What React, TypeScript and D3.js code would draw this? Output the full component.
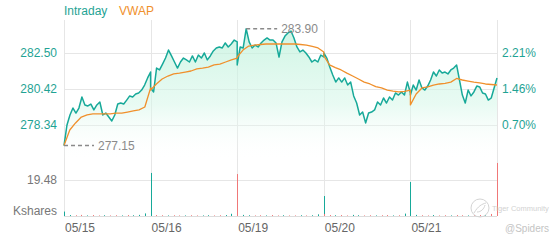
import React from 'react';
import * as d3 from 'd3';

const dayLabels = ['05/15', '05/16', '05/19', '05/20', '05/21'];

// intraday prices, evenly spaced through each session
const priceDay1 = [277.15, 278.34, 278.92, 279.32, 279.03, 279.32, 279.96, 279.50, 279.44, 279.55, 279.21, 279.50, 279.67, 278.92, 279.03, 278.80, 278.57, 278.92, 279.55, 279.61, 279.55, 279.78, 280.02, 279.96, 280.13, 280.19, 280.36, 280.65, 281.06, 281.40];
const priceDay2 = [280.48, 280.25, 281.63, 281.52, 281.86, 282.21, 282.67, 282.33, 281.98, 281.63, 281.98, 282.21, 282.10, 281.98, 282.33, 281.98, 282.38, 282.21, 282.50, 282.10, 282.33, 282.62, 282.79, 282.85, 282.79, 283.08, 282.85, 283.02, 283.25, 283.14];
const priceDay3 = [281.81, 282.85, 282.79, 283.90, 283.14, 282.79, 282.96, 282.85, 283.08, 283.25, 283.37, 283.25, 283.25, 283.08, 282.27, 283.14, 283.48, 283.66, 283.77, 283.37, 282.85, 282.56, 282.67, 282.50, 282.27, 281.98, 282.10, 281.98, 282.38, 282.27];
const priceDay4 = [282.50, 282.21, 281.69, 281.23, 280.82, 281.06, 280.82, 281.06, 280.65, 280.82, 280.02, 279.61, 278.92, 279.09, 278.46, 279.03, 279.09, 279.21, 279.67, 279.50, 279.90, 279.61, 279.96, 279.78, 280.19, 280.07, 280.25, 280.07, 280.82, 280.19];
const priceDay5 = [280.07, 280.65, 280.36, 280.94, 280.48, 280.36, 280.59, 280.94, 281.40, 281.17, 281.52, 281.34, 281.40, 281.29, 281.52, 281.63, 281.81, 280.94, 280.07, 279.61, 280.36, 280.02, 280.25, 280.59, 280.54, 280.19, 280.13, 279.78, 279.90, 280.48, 281.06];

// VWAP, evenly spaced through each session
const vwapDay1 = [277.15, 278.05, 278.46, 278.80, 278.92, 278.98, 278.98, 278.98, 278.98, 279.03, 279.03, 279.09, 279.15, 279.21, 279.38, 280.48];
const vwapDay2 = [280.36, 280.71, 281.00, 281.17, 281.29, 281.34, 281.40, 281.46, 281.58, 281.63, 281.69, 281.81, 281.86, 281.98, 282.10, 282.21];
const vwapDay3 = [282.27, 282.67, 282.90, 282.96, 282.99, 283.02, 283.02, 283.02, 283.02, 283.02, 283.02, 282.99, 282.96, 282.88, 282.79, 282.56];
const vwapDay4 = [282.33, 281.81, 281.66, 281.52, 281.34, 281.17, 281.00, 280.82, 280.71, 280.56, 280.48, 280.36, 280.30, 280.25, 280.28, 280.36];
const vwapDay5 = [279.50, 280.13, 280.48, 280.54, 280.65, 280.71, 280.74, 280.82, 281.03, 280.94, 280.88, 280.82, 280.77, 280.71, 280.68, 280.65];

// volume (Kshares), evenly spaced through each session; u = up bar, d = down bar
const volDay1 = [2.4, 0.5, 0.4, 0.6, 0.3, 0.5, 0.3, 0.4, 0.3, 0.4, 0.3, 0.5, 0.4, 0.6, 1.4, 23.3];
const volDay2 = [1.2, 0.5, 0.4, 0.3, 0.4, 0.3, 0.3, 0.4, 0.3, 0.3, 0.4, 0.3, 0.4, 0.5, 1.2, 22.7];
const volDay3 = [1.0, 0.6, 0.4, 0.3, 0.4, 0.3, 0.5, 0.3, 0.4, 0.3, 0.3, 0.4, 0.3, 0.4, 0.9, 10.8];
const volDay4 = [1.1, 0.5, 0.4, 0.5, 0.3, 0.6, 0.4, 0.3, 0.4, 0.3, 0.4, 0.5, 0.3, 0.4, 1.3, 18.4];
const volDay5 = [1.2, 0.6, 0.4, 0.3, 0.5, 0.3, 0.4, 0.3, 0.5, 0.4, 0.3, 0.4, 0.5, 0.4, 1.1, 28.7];
const volDirDay1 = 'uudduddudduduuuu';
const volDirDay2 = 'udduddudduudduud';
const volDirDay3 = 'duudduddudduduuu';
const volDirDay4 = 'ddudduudduddudu';
const volDirDay5 = 'uudduddudduddudd';

const priceTicks = [282.5, 280.42, 278.34];
const pctTickLabels = ['2.21%', '1.46%', '0.70%'];
const volTick = 19.48;

const TEAL = '#17a999';
const TEAL_TEXT = '#1fa394';
const ORANGE = '#f0902c';
const RED = '#f07878';
const GRID = '#e6e6e6';
const FONT = '"Liberation Sans", Arial, sans-serif';

const SESSION = 390;

export default function App() {
  const priceDays = [priceDay1, priceDay2, priceDay3, priceDay4, priceDay5];
  const vwapDays = [vwapDay1, vwapDay2, vwapDay3, vwapDay4, vwapDay5];
  const volDays = [volDay1, volDay2, volDay3, volDay4, volDay5];
  const volDirs = [volDirDay1, volDirDay2, volDirDay3, volDirDay4, volDirDay5];

  const left = 64, right = 497;
  const x = d3.scaleLinear().domain([0, dayLabels.length * SESSION]).range([left, right]);
  const y = d3.scaleLinear().domain([276.26, 284.58]).range([161, 17]);
  const yVol = d3.scaleLinear().domain([0, volTick * 2]).range([216, 144]);

  type P = { t: number; v: number };
  const toPoints = (days: number[][]): P[] =>
    days.flatMap((arr, d) => arr.map((v, i) => ({ t: d * SESSION + (i * SESSION) / (arr.length - 1), v })));

  const pricePts = toPoints(priceDays);
  const vwapPts = toPoints(vwapDays);
  const volPts = volDays.flatMap((arr, d) =>
    arr.map((v, i) => ({ t: d * SESSION + (i * SESSION) / (arr.length - 1), v, up: volDirs[d][i] !== 'd' }))
  );

  const line = d3.line<P>().x((p) => x(p.t)).y((p) => y(p.v));
  const area = d3.area<P>().x((p) => x(p.t)).y0(y.range()[0]).y1((p) => y(p.v));

  const hi = pricePts.reduce((a, b) => (b.v > a.v ? b : a));
  const lo = pricePts.reduce((a, b) => (b.v < a.v ? b : a));

  const boundaries = d3.range(dayLabels.length + 1).map((d) => d * SESSION);

  return (
    <svg width={560} height={240} style={{ position: 'absolute', left: 0, top: 0, background: '#fff' }} fontFamily={FONT}>
      <defs>
        <linearGradient id="fillGrad" gradientUnits="userSpaceOnUse" x1={0} x2={0} y1={20} y2={161}>
          <stop offset="0%" stopColor="#baf0d8" stopOpacity={0.75} />
          <stop offset="60%" stopColor="#d6f7e9" stopOpacity={0.55} />
          <stop offset="100%" stopColor="#ffffff" stopOpacity={0} />
        </linearGradient>
      </defs>

      {/* legend */}
      <text x={64} y={15} fontSize={12} fill={TEAL_TEXT}>Intraday</text>
      <text x={119} y={15} fontSize={12} fill={ORANGE}>VWAP</text>

      {/* grid */}
      {boundaries.map((t) => (
        <line key={'v' + t} x1={Math.round(x(t)) + 0.5} x2={Math.round(x(t)) + 0.5} y1={20} y2={216} stroke={GRID} />
      ))}
      {priceTicks.map((p) => (
        <line key={'h' + p} x1={left} x2={right} y1={Math.round(y(p)) + 0.5} y2={Math.round(y(p)) + 0.5} stroke={GRID} />
      ))}
      <line x1={left} x2={right} y1={Math.round(yVol(volTick)) + 0.5} y2={Math.round(yVol(volTick)) + 0.5} stroke={GRID} />
      <line x1={left} x2={right} y1={216.5} y2={216.5} stroke="#dcdcdc" />

      {/* price area + lines */}
      <path d={area(pricePts) || ''} fill="url(#fillGrad)" />
      <path d={line(pricePts) || ''} fill="none" stroke={TEAL} strokeWidth={1.5} strokeLinejoin="round" />
      <path d={line(vwapPts) || ''} fill="none" stroke={ORANGE} strokeWidth={1.3} strokeLinejoin="round" />

      {/* high / low markers */}
      <line x1={x(hi.t)} x2={x(hi.t) + 31} y1={y(hi.v)} y2={y(hi.v)} stroke="#8a8a8a" strokeWidth={1.5} strokeDasharray="4,3" />
      <text x={x(hi.t) + 35} y={y(hi.v)} dy="0.35em" fontSize={12} fill="#8a8a8a">{hi.v.toFixed(2)}</text>
      <line x1={x(lo.t)} x2={x(lo.t) + 30} y1={y(lo.v)} y2={y(lo.v)} stroke="#8a8a8a" strokeWidth={1.5} strokeDasharray="4,3" />
      <text x={x(lo.t) + 34} y={y(lo.v)} dy="0.35em" fontSize={12} fill="#8a8a8a">{lo.v.toFixed(2)}</text>

      {/* volume bars */}
      {volPts.map((p, i) => (
        <line
          key={'b' + i}
          x1={Math.round(x(p.t)) + 0.5}
          x2={Math.round(x(p.t)) + 0.5}
          y1={yVol(0)}
          y2={yVol(p.v)}
          stroke={p.up ? TEAL : RED}
          strokeWidth={1}
        />
      ))}

      {/* left axis labels */}
      {priceTicks.map((p) => (
        <text key={'l' + p} x={57} y={y(p)} dy="0.35em" textAnchor="end" fontSize={12} fill={TEAL_TEXT}>
          {p.toFixed(2)}
        </text>
      ))}
      {priceTicks.map((p, i) => (
        <text key={'r' + p} x={502} y={y(p)} dy="0.35em" fontSize={12} fill={TEAL_TEXT}>
          {pctTickLabels[i]}
        </text>
      ))}
      <text x={57} y={yVol(volTick)} dy="0.35em" textAnchor="end" fontSize={12} fill="#777">{volTick.toFixed(2)}</text>
      <text x={57} y={211} dy="0.35em" textAnchor="end" fontSize={12} fill="#777">Kshares</text>

      {/* x labels */}
      {dayLabels.map((lab, d) => (
        <text key={lab} x={x(d * SESSION) + 1} y={232} fontSize={12} fill="#666">{lab}</text>
      ))}

      {/* watermark */}
      <circle cx={480} cy={208} r={9} fill="none" stroke="#d4d4d4" strokeWidth={1} />
      <path d="M474,213 C478,206 482,204 486,203 M477,212 C481,212 484,209 485,205" fill="none" stroke="#d4d4d4" strokeWidth={1} />
      <text x={492} y={211} fontSize={7.5} fill="#d2d2d2">Tiger Community</text>
      <text x={505} y={232} fontSize={10} fill="#c4c4c4">@Spiders</text>
    </svg>
  );
}
